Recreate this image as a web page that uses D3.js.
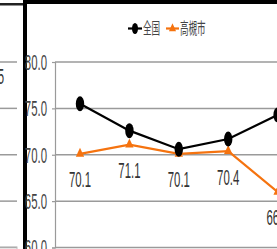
<!DOCTYPE html>
<html>
<head>
<meta charset="utf-8">
<script src="https://cdn.jsdelivr.net/npm/d3@7"></script>
<style>
  body { margin: 0; background: #fff; }
  svg { display: block; }
</style>
</head>
<body>
<div id="chart"></div>
<script>
const categories = ['c1', 'c2', 'c3', 'c4', 'c5'];
const zenkoku = [75.5, 72.6, 70.6, 71.7, 74.3];
const takatsuki = [70.1, 71.1, 70.1, 70.4, 66.0];
const yTicks = [60, 65, 70, 75, 80];
const seriesNames = ['全国', '高槻市'];

const W = 277, H = 249;
const black = '#000', orange = '#f5730f', grid = '#9a9a9a';
// the picture uses a tall, narrow font, so text gets squeezed
const numScale = 'scale(0.76,1.42)';
const cjkScale = 'scale(0.57,1.05)';

const svg = d3.select('#chart').append('svg')
  .attr('width', W).attr('height', H);

const y = d3.scaleLinear().domain([60, 80]).range([247.5, 62]);
const x = d3.scalePoint().domain(categories).range([80, 277.6]);

// left neighbour panel (cut off)
svg.selectAll('.lgrid').data(yTicks).enter().append('line')
  .attr('x1', 0).attr('x2', 17)
  .attr('y1', d => y(d)).attr('y2', d => y(d))
  .attr('stroke', grid).attr('stroke-width', 1.5);
svg.append('text')
  .attr('transform', `translate(4,77) ${numScale}`)
  .attr('text-anchor', 'end').attr('dy', '0.35em')
  .attr('font-family', 'Liberation Sans, Arial, sans-serif')
  .attr('font-size', 15).attr('fill', '#333')
  .text('5');
svg.append('rect')
  .attr('x', -1).attr('y', 247).attr('width', 18).attr('height', 10)
  .attr('fill', 'none').attr('stroke', '#bbb');
svg.append('rect').attr('x', 0).attr('y', 3).attr('width', 23).attr('height', 2.5).attr('fill', '#222');

// frame
svg.append('rect').attr('x', 23).attr('y', 0).attr('width', 4).attr('height', H).attr('fill', '#000');
svg.append('rect').attr('x', 27).attr('y', 0).attr('width', W - 27).attr('height', 4).attr('fill', '#000');

// gridlines
const plot = svg.append('g');
plot.selectAll('.grid').data(yTicks).enter().append('line')
  .attr('x1', 55).attr('x2', W)
  .attr('y1', d => y(d)).attr('y2', d => y(d))
  .attr('stroke', grid).attr('stroke-width', 1.5);

// y axis
const yAxis = svg.append('g')
  .attr('transform', 'translate(55,0)')
  .call(d3.axisLeft(y).tickValues(yTicks).tickSize(3).tickFormat(d3.format('.1f')));
yAxis.select('.domain').attr('stroke', grid).attr('stroke-width', 1.2);
yAxis.selectAll('.tick line').attr('stroke', grid).attr('stroke-width', 1.2);
yAxis.selectAll('.tick text')
  .attr('x', null).attr('dy', null)
  .attr('transform', `translate(-8,0) ${numScale}`)
  .attr('dy', '0.35em')
  .attr('font-family', 'Liberation Sans, Arial, sans-serif')
  .attr('font-size', 15).attr('fill', '#444');

// lines
const line = d3.line().x((d, i) => x(categories[i])).y(d => y(d));
plot.append('path').datum(takatsuki)
  .attr('d', line).attr('fill', 'none')
  .attr('stroke', orange).attr('stroke-width', 2.2);
plot.append('path').datum(zenkoku)
  .attr('d', line).attr('fill', 'none')
  .attr('stroke', black).attr('stroke-width', 2.2);

// markers
plot.selectAll('.tri').data(takatsuki).enter().append('path')
  .attr('d', d3.symbol(d3.symbolTriangle, 30)())
  .attr('transform', (d, i) => `translate(${x(categories[i])},${y(d)}) scale(1,1.25)`)
  .attr('fill', orange);
plot.selectAll('.dot').data(zenkoku).enter().append('ellipse')
  .attr('cx', (d, i) => x(categories[i])).attr('cy', d => y(d))
  .attr('rx', 4.2).attr('ry', 7.5)
  .attr('fill', black);

// data labels for 高槻市
plot.selectAll('.lbl').data(takatsuki).enter().append('text')
  .attr('transform', (d, i) => `translate(${x(categories[i])},${y(d) + 26}) ${numScale}`)
  .attr('text-anchor', 'middle').attr('dy', '0.35em')
  .attr('font-family', 'Liberation Sans, Arial, sans-serif')
  .attr('font-size', 15).attr('fill', '#333')
  .text(d => d.toFixed(1));

// legend
const legend = svg.append('g').attr('transform', 'translate(0,28.5)');
legend.append('line').attr('x1', 128).attr('x2', 142).attr('stroke', black).attr('stroke-width', 2.2);
legend.append('ellipse').attr('cx', 135).attr('rx', 3).attr('ry', 5.5).attr('fill', black);
legend.append('line').attr('x1', 166).attr('x2', 179).attr('stroke', orange).attr('stroke-width', 2.2);
legend.append('path')
  .attr('d', d3.symbol(d3.symbolTriangle, 22)())
  .attr('transform', 'translate(172.5,0) scale(1,1.3)')
  .attr('fill', orange);
legend.selectAll('.ltxt').data(seriesNames).enter().append('text')
  .attr('transform', (d, i) => `translate(${i ? 180 : 143},0) ${cjkScale}`)
  .attr('dy', '0.36em')
  .attr('font-family', 'Noto Sans CJK JP, sans-serif')
  .attr('font-size', 15).attr('fill', '#444')
  .text(d => d);
</script>
</body>
</html>
